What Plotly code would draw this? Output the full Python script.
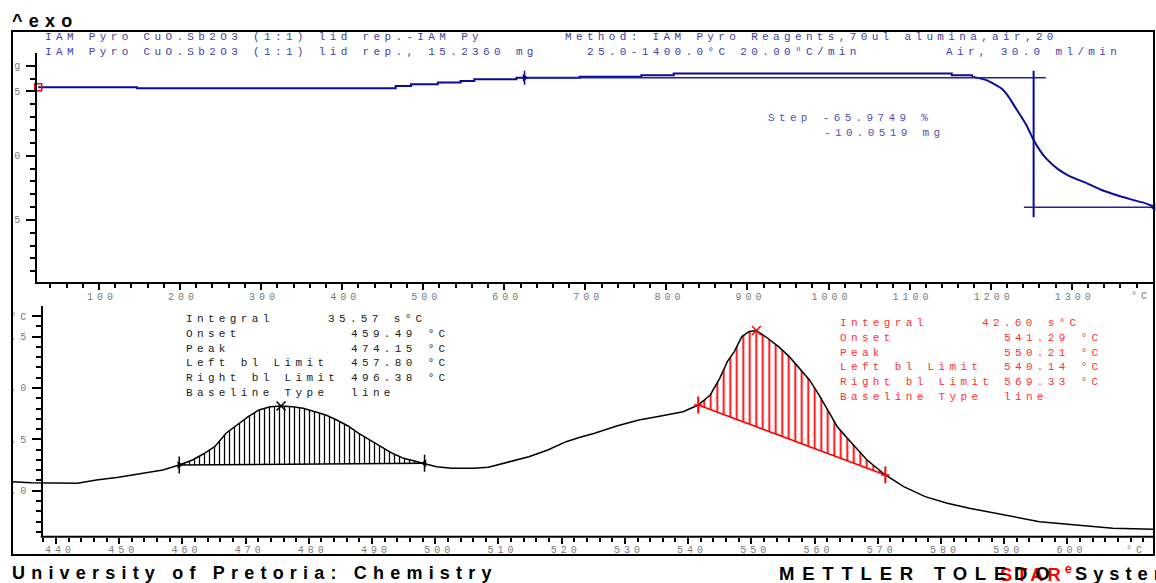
import numpy as np
import plotly.graph_objects as go

W, H = 1156, 583

# ---------------- data: TGA (top panel) ----------------
tga_step_T = [25, 147, 466, 485, 518, 546, 563, 615, 693, 769, 809, 1152, 1177]
tga_step_mg = [15.33, 15.25, 15.43, 15.56, 15.69, 15.82, 15.95, 16.07, 16.15, 16.26, 16.39, 16.26, 16.15]
tga_drop_T = [1177, 1194, 1213, 1222, 1231, 1235, 1244, 1253, 1262, 1269, 1283, 1296, 1319, 1337, 1355, 1373, 1391, 1400]
tga_drop_mg = [16.15, 15.90, 15.25, 14.60, 13.70, 13.30, 12.39, 11.22, 10.30, 9.75, 8.95, 8.45, 7.85, 7.33, 6.94, 6.60, 6.29, 6.08]

step_top_T = [625, 1268]
step_top_mg = [16.07, 16.07]
step_bot_T = [1241, 1401]
step_bot_mg = [5.98, 5.98]
step_vert_T = [1253, 1253]
step_vert_mg = [16.62, 5.2]

top_x_ticks = [100, 200, 300, 400, 500, 600, 700, 800, 900, 1000, 1100, 1200, 1300]
top_x_minor = list(range(40, 1400, 20))
top_y_ticks = [5, 10, 15, 17]
top_y_labels = ["5", "10", "15", "mg"]
top_y_minor = list(range(1, 18))

# ---------------- data: DTA (bottom panel) ----------------
dta_T = [433.04, 436.1, 443.4, 446.4, 449.9, 453.4, 456.9, 459.5, 461.6, 463.3, 465.1, 466.9,
         468.6, 470.4, 472.1, 473.9, 475.6, 477.4, 479.1, 480.9, 482.7, 484.4, 486.2, 487.9,
         489.7, 491.4, 493.2, 495.0, 496.7, 498.3, 500.2, 502.6, 506.1, 508.4, 511.9, 514.8,
         517.8, 520.7, 522.9, 525.2, 528.7, 532.2, 535.7, 539.2, 541.6, 543.5, 545.0, 546.2,
         547.3, 548.5, 549.7, 550.8, 552.6, 554.3, 556.0, 557.8, 559.2, 560.7, 562.4, 563.6,
         565.9, 568.3, 571.2, 574.1, 577.5, 581.0, 584.5, 589.8, 595.6, 601.4, 607.2, 613.7]
dta_v = [0.088, 0.078, 0.072, 0.104, 0.130, 0.169, 0.202, 0.250, 0.299, 0.357, 0.428, 0.559,
         0.640, 0.721, 0.786, 0.818, 0.825, 0.818, 0.802, 0.769, 0.737, 0.688, 0.630, 0.559,
         0.494, 0.428, 0.364, 0.315, 0.289, 0.267, 0.234, 0.218, 0.218, 0.228, 0.282, 0.331,
         0.396, 0.477, 0.520, 0.559, 0.630, 0.688, 0.727, 0.769, 0.834, 0.932, 1.094, 1.256,
         1.353, 1.500, 1.550, 1.560, 1.484, 1.402, 1.305, 1.175, 1.078, 0.932, 0.747, 0.623,
         0.462, 0.299, 0.153, 0.039, -0.058, -0.123, -0.171, -0.237, -0.302, -0.334, -0.366, -0.376]

peak1_limits_T = [459.5, 498.3]
peak2_limits_T = [541.6, 571.2]

bot_x_ticks = [440, 450, 460, 470, 480, 490, 500, 510, 520, 530, 540, 550, 560, 570, 580, 590, 600]
bot_x_minor = list(range(438, 614, 2))
bot_y_ticks = [0.0, 0.5, 1.0, 1.5, 1.7]
bot_y_labels = ["0.0", "0.5", "1.0", "1.5", "°C"]
bot_y_minor = [round(-0.4 + 0.1 * i, 1) for i in range(22)]

peak1_table = [("Integral", "35.57 s°C"), ("Onset", "459.49 °C"), ("Peak", "474.15 °C"),
               ("Left bl Limit", "457.80 °C"), ("Right bl Limit", "496.38 °C"), ("Baseline Type", "line")]
peak2_table = [("Integral", "42.60 s°C"), ("Onset", "541.29 °C"), ("Peak", "550.21 °C"),
               ("Left bl Limit", "540.14 °C"), ("Right bl Limit", "569.33 °C"), ("Baseline Type", "line")]

header_lines = [
    ("IAM Pyro CuO.Sb2O3 (1:1) lid rep.-IAM Py", 44, 36.7),
    ("Method: IAM Pyro Reagents,70ul alumina,air,20", 564, 36.7),
    ("IAM Pyro CuO.Sb2O3 (1:1) lid rep., 15.2360 mg", 44, 51.7),
    ("25.0-1400.0°C 20.00°C/min", 586, 51.7),
    ("Air, 30.0 ml/min", 944.6, 51.7),
]


def px(x):
    return x / W


def py(y):
    return 1 - y / H


MONO = "Liberation Mono"
SANS = "Liberation Sans"
BLUE = "#0a0a9c"
TXT_BLUE = "#4040a8"
GRAY = "#7a7a7a"

fig = go.Figure()

# ---- top panel traces ----
fig.add_trace(go.Scatter(x=tga_step_T, y=tga_step_mg, mode="lines", line=dict(color=BLUE, width=2, shape="hv"),
                         xaxis="x", yaxis="y", hoverinfo="skip"))
fig.add_trace(go.Scatter(x=tga_drop_T, y=tga_drop_mg, mode="lines", line=dict(color=BLUE, width=2, shape="spline", smoothing=0.6),
                         xaxis="x", yaxis="y", hoverinfo="skip"))
fig.add_trace(go.Scatter(x=step_top_T, y=step_top_mg, mode="lines", line=dict(color="#2020a0", width=1.5),
                         xaxis="x", yaxis="y", hoverinfo="skip"))
fig.add_trace(go.Scatter(x=step_bot_T, y=step_bot_mg, mode="lines", line=dict(color="#2020a0", width=1.5),
                         xaxis="x", yaxis="y", hoverinfo="skip"))
fig.add_trace(go.Scatter(x=step_vert_T, y=step_vert_mg, mode="lines", line=dict(color=BLUE, width=2),
                         xaxis="x", yaxis="y", hoverinfo="skip"))
# markers on the TGA
fig.add_trace(go.Scatter(x=[tga_step_T[0]], y=[tga_step_mg[0]], mode="markers",
                         marker=dict(symbol="square-open", size=7, color="red", line=dict(width=1.5, color="red")),
                         xaxis="x", yaxis="y", hoverinfo="skip", cliponaxis=False))
fig.add_trace(go.Scatter(x=[step_top_T[0]], y=[step_top_mg[0]], mode="markers",
                         marker=dict(symbol="triangle-right", size=7, color=BLUE),
                         xaxis="x", yaxis="y", hoverinfo="skip"))
fig.add_trace(go.Scatter(x=[step_top_T[0]], y=[step_top_mg[0]], mode="markers",
                         marker=dict(symbol="line-ns", size=10, line=dict(color=BLUE, width=1.5)),
                         xaxis="x", yaxis="y", hoverinfo="skip"))
fig.add_trace(go.Scatter(x=[step_bot_T[1]], y=[step_bot_mg[1]], mode="markers",
                         marker=dict(symbol="triangle-left", size=7, color=BLUE),
                         xaxis="x", yaxis="y", hoverinfo="skip", cliponaxis=False))

# ---- bottom panel traces ----
T_arr = np.array(dta_T)
v_arr = np.array(dta_v)


def add_peak(limits, color, hatch_size, solidity):
    lo, hi = limits
    bl_v = list(np.interp(limits, T_arr, v_arr))
    m = (T_arr >= lo) & (T_arr <= hi)
    fig.add_trace(go.Scatter(x=list(limits), y=bl_v, mode="lines", line=dict(color=color, width=1.5),
                             xaxis="x2", yaxis="y2", hoverinfo="skip"))
    fig.add_trace(go.Scatter(x=list(T_arr[m]), y=list(v_arr[m]), mode="lines", line=dict(width=0, color=color),
                             fill="tonexty", fillcolor="rgba(0,0,0,0)",
                             fillpattern=dict(shape="|", fgcolor=color, bgcolor="rgba(0,0,0,0)",
                                              size=hatch_size, solidity=solidity, fillmode="replace"),
                             xaxis="x2", yaxis="y2", hoverinfo="skip"))
    return bl_v


bl1 = add_peak(peak1_limits_T, "black", 5, 0.25)
bl2 = add_peak(peak2_limits_T, "#ff0000", 6.5, 0.28)

fig.add_trace(go.Scatter(x=dta_T, y=dta_v, mode="lines", line=dict(color="black", width=1.5),
                         xaxis="x2", yaxis="y2", hoverinfo="skip"))

# peak markers
for limits, color in ((peak1_limits_T, "black"), (peak2_limits_T, "#ff0000")):
    m = (T_arr >= limits[0]) & (T_arr <= limits[1])
    k = int(np.argmax(np.where(m, v_arr, -9)))
    fig.add_trace(go.Scatter(x=[dta_T[k]], y=[dta_v[k]], mode="markers",
                             marker=dict(symbol="x-thin", size=9, line=dict(color=color, width=1.5)),
                             xaxis="x2", yaxis="y2", hoverinfo="skip"))

# limit markers
fig.add_trace(go.Scatter(x=[peak1_limits_T[0]], y=[bl1[0]], mode="markers",
                         marker=dict(symbol="triangle-right", size=7, color="black"),
                         xaxis="x2", yaxis="y2", hoverinfo="skip"))
fig.add_trace(go.Scatter(x=[peak1_limits_T[1]], y=[bl1[1]], mode="markers",
                         marker=dict(symbol="triangle-left", size=7, color="black"),
                         xaxis="x2", yaxis="y2", hoverinfo="skip"))
fig.add_trace(go.Scatter(x=peak1_limits_T, y=bl1, mode="markers",
                         marker=dict(symbol="line-ns", size=12, line=dict(color="black", width=1.5)),
                         xaxis="x2", yaxis="y2", hoverinfo="skip"))
fig.add_trace(go.Scatter(x=peak2_limits_T, y=bl2, mode="markers",
                         marker=dict(symbol="line-ns", size=12, line=dict(color="#ff0000", width=2)),
                         xaxis="x2", yaxis="y2", hoverinfo="skip"))
fig.add_trace(go.Scatter(x=peak2_limits_T, y=bl2, mode="markers",
                         marker=dict(symbol="line-ew", size=6, line=dict(color="#ff0000", width=1.5)),
                         xaxis="x2", yaxis="y2", hoverinfo="skip"))

# ---------------- axes ----------------
tick_font = dict(family=MONO, size=10, color=GRAY)
common = dict(showgrid=False, zeroline=False, showline=True, linecolor="black", linewidth=2,
              ticks="outside", tickcolor="black", tickwidth=1.5, tickfont=tick_font)

fig.update_layout(
    width=W, height=H, margin=dict(l=0, r=0, t=0, b=0), showlegend=False,
    paper_bgcolor="white", plot_bgcolor="rgba(0,0,0,0)",
    xaxis=dict(domain=[px(37.3), px(1154)], range=[23.9, 1401.5], anchor="y",
               tickvals=top_x_ticks, ticktext=[str(t) for t in top_x_ticks], ticklen=6,
               ticklabelshift=3, ticklabelstandoff=-2,
               minor=dict(tickvals=top_x_minor, ticklen=4, tickwidth=1.5, tickcolor="black", ticks="outside"),
               **common),
    yaxis=dict(domain=[py(281.7), py(53.3)], range=[0.19, 17.97], anchor="x",
               tickvals=top_y_ticks, ticktext=top_y_labels, ticklen=9,
               minor=dict(tickvals=top_y_minor, ticklen=5.5, tickwidth=1.5, tickcolor="black", ticks="outside"),
               **common),
    xaxis2=dict(domain=[px(12), px(1154)], range=[433.04, 613.7], anchor="y2",
                tickvals=bot_x_ticks, ticktext=[str(t) for t in bot_x_ticks], ticklen=6,
                ticklabelshift=4, ticklabelstandoff=-3,
                minor=dict(tickvals=bot_x_minor, ticklen=4, tickwidth=1.5, tickcolor="black", ticks="outside"),
                **{**common, "showline": False}),
    yaxis2=dict(domain=[py(536.7), py(306)], range=[-0.448, 1.798], anchor="free", position=px(41.7),
                tickvals=bot_y_ticks, ticktext=bot_y_labels, ticklen=8.5,
                minor=dict(tickvals=bot_y_minor, ticklen=5, tickwidth=1.5, tickcolor="black", ticks="outside"),
                **common),
)

# ---------------- shapes (frame, cover, bottom axis line) ----------------
shapes = [
    dict(type="rect", xref="paper", yref="paper", x0=0, x1=px(10.8), y0=py(555), y1=py(31),
         fillcolor="white", line=dict(width=0), layer="above"),
    dict(type="rect", xref="paper", yref="paper", x0=px(12), x1=px(1154), y0=py(555), y1=py(31),
         fillcolor="rgba(0,0,0,0)", line=dict(color="black", width=2), layer="above"),
    dict(type="line", xref="paper", yref="paper", x0=px(40.7), x1=px(1154), y0=py(536.7), y1=py(536.7),
         line=dict(color="black", width=2), layer="above"),
]
fig.update_layout(shapes=shapes)

# ---------------- annotations ----------------
ann = []


def txt(s, x, y, size, color, family=MONO, xref="paper", yref="paper", xanchor="left", align="left"):
    ann.append(dict(text=s, x=x, y=y, xref=xref, yref=yref, xanchor=xanchor, yanchor="middle", align=align,
                    showarrow=False, font=dict(family=family, size=size, color=color), borderpad=0))


for s, x, y in header_lines:
    txt(s, px(x), py(y), 11, TXT_BLUE)

txt("Step -65.9749 %", px(767), py(118.3), 11, "#5050b8")
txt("-10.0519 mg", px(822.5), py(133), 11, "#5050b8")

rows1_y = [319, 334.3, 349, 363.3, 378.3, 392.7]
for (lab, val), y in zip(peak1_table, rows1_y):
    txt(lab, px(185), py(y), 11, "#202020")
    vx = 327.4 if lab == "Integral" else 349.6
    txt(val, px(vx), py(y), 11, "#202020")

rows2_y = [323.3, 337.7, 353.3, 367.3, 382.3, 396.7]
for (lab, val), y in zip(peak2_table, rows2_y):
    txt(lab, px(839), py(y), 11, "#ff3030")
    vx = 981 if lab == "Integral" else 1002.5
    txt(val, px(vx), py(y), 11, "#ff3030")

# axis unit labels
txt("°C", 1386, py(296.7), 10, GRAY, xref="x", xanchor="center", align="center")
txt("°C", 610.8, py(550), 10, GRAY, xref="x2", xanchor="center", align="center")

# titles (red STAR logo first so the black lettering overlays it, as in the original)
txt("<b>STAR<sup>e</sup></b>", px(999), py(573), 18.4, "#ff0000", family=SANS)
txt("<b>^exo</b>", px(11), py(21), 18, "black", family=SANS)
txt("<b>University of Pretoria: Chemistry</b>", px(11), py(573), 18, "black", family=SANS)
txt("<b>METTLER TOLEDO</b>", px(778), py(573), 18.5, "black", family=SANS)
txt("<b>System</b>", px(1074), py(573), 18.3, "black", family=SANS)

fig.update_layout(annotations=ann)

post = """
document.body.style.margin='0';
var css='';
var sp={'10px':'4px','11px':'4.35px','18px':'6.2px','18.5px':'7.8px','18.4px':'4px','18.3px':'6px'};
for (var k in sp){ css += 'text[style*="font-size: '+k+';"]{letter-spacing:'+sp[k]+';}\\n'; }
var st=document.createElement('style'); st.innerHTML=css; document.head.appendChild(st);
"""

fig.write_html("out.html", post_script=post, config={"displayModeBar": False})
